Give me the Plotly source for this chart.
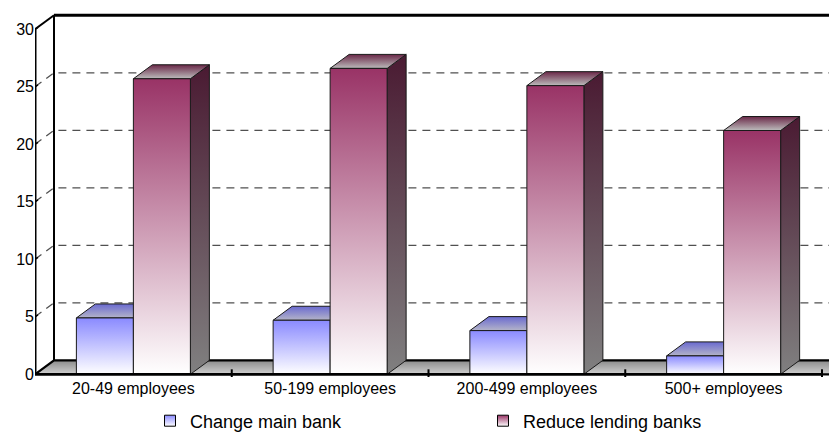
import plotly.graph_objects as go

# ---- data ----
categories = ["20-49 employees", "50-199 employees", "200-499 employees", "500+ employees"]
change_main_bank = [4.9, 4.7, 3.8, 1.6]
reduce_lending_banks = [25.7, 26.6, 25.1, 21.2]
series_names = ["Change main bank", "Reduce lending banks"]
y_ticks = [0, 5, 10, 15, 20, 25, 30]

# ---- geometry / style constants ----
W, H = 829, 435
ML, MR, MT, MB = 35, 0, 10, 58
PX_PER_CAT = 196.75       # pixels per category slot
PX_PER_UNIT = 11.5        # pixels per value unit
ZERO_PX = 374.3           # pixel row of value 0 (front plane)
DEPTH_DX_PX, DEPTH_DY_PX = 19, 14
DX = DEPTH_DX_PX / PX_PER_CAT
DY = DEPTH_DY_PX / PX_PER_UNIT
BAR_W = 57 / PX_PER_CAT
YMAX = 30
FONT = "Liberation Sans, Arial, sans-serif"

x_range = [0, (W - ML - MR) / PX_PER_CAT]
y_range = [(ZERO_PX - (H - MB)) / PX_PER_UNIT, (ZERO_PX - MT) / PX_PER_UNIT]
n = len(categories)

BLUE = dict(front=["#ffffff", "#8a8aff"], top=["#b4b4c8", "#6a6ad0"])
MAROON = dict(front=["#ffffff", "#993366"], top=["#bcbcbc", "#6a2848"],
              side=["#808080", "#4a1a32"])

fig = go.Figure()


def face(xs, ys, colors, lw=1, lc="#1a1a1a"):
    fig.add_trace(go.Scatter(
        x=xs + [xs[0]], y=ys + [ys[0]], mode="lines", fill="toself",
        fillgradient=dict(type="vertical", colorscale=[[0, colors[0]], [1, colors[1]]]),
        line=dict(color=lc, width=lw), showlegend=False, hoverinfo="skip"))


# floor
fx1 = n + 0.2
face([0, fx1, fx1 + DX, DX], [0, 0, DY, DY], ["#d0d0d0", "#8a8a8a"], lw=2.2, lc="black")

# bars
for i in range(n):
    c = i + 0.5
    # blue bar
    b0, b1, v = c - BAR_W, c, change_main_bank[i]
    face([b0, b1, b1 + DX, b0 + DX], [v, v, v + DY, v + DY], BLUE["top"])
    face([b0, b1, b1, b0], [0, 0, v, v], BLUE["front"])
    # maroon bar
    m0, m1, v = c, c + BAR_W, reduce_lending_banks[i]
    face([m1, m1 + DX, m1 + DX, m1], [0, DY, v + DY, v], MAROON["side"])
    face([m0, m1, m1 + DX, m0 + DX], [v, v, v + DY, v + DY], MAROON["top"])
    face([m0, m1, m1, m0], [0, 0, v, v], MAROON["front"])

# legend entries
fig.add_trace(go.Scatter(x=[None], y=[None], mode="markers", name=series_names[0],
                         marker=dict(symbol="square", size=11, color="#8a8aff",
                                     gradient=dict(type="vertical", color="#ffffff"),
                                     line=dict(color="black", width=1))))
fig.add_trace(go.Scatter(x=[None], y=[None], mode="markers", name=series_names[1],
                         marker=dict(symbol="square", size=11, color="#993366",
                                     gradient=dict(type="vertical", color="#ffffff"),
                                     line=dict(color="black", width=1))))

shapes = []
# dashed gridlines on side + back wall
for v in y_ticks[1:-1]:
    shapes.append(dict(type="path", xref="x", yref="y", layer="below",
                       path=f"M 0 {v} L {DX} {v + DY} L {x_range[1] + 1} {v + DY}",
                       line=dict(color="#505050", width=1.3, dash="8px,6px")))
# back-left vertical, top edges
shapes.append(dict(type="line", xref="x", yref="y", layer="below",
                   x0=DX, y0=DY, x1=DX, y1=YMAX + DY, line=dict(color="black", width=2)))
shapes.append(dict(type="line", xref="x", yref="y", layer="above",
                   x0=0, y0=YMAX, x1=DX, y1=YMAX + DY, line=dict(color="black", width=2)))
shapes.append(dict(type="line", xref="x", yref="y", layer="above",
                   x0=DX, y0=YMAX + DY, x1=x_range[1] + 1, y1=YMAX + DY,
                   line=dict(color="black", width=3)))
# front value axis
shapes.append(dict(type="line", xref="x", yref="y", layer="above",
                   x0=0, y0=0, x1=0, y1=YMAX, line=dict(color="black", width=3)))
# front category axis
shapes.append(dict(type="line", xref="x", yref="y", layer="above",
                   x0=0, y0=0, x1=n, y1=0, line=dict(color="black", width=2.5)))
# category boundary ticks
for k in range(1, n + 1):
    shapes.append(dict(type="line", xref="x", yref="y", layer="above",
                       ysizemode="pixel", yanchor=0, x0=k, x1=k, y0=-3, y1=5,
                       line=dict(color="black", width=2)))
# value ticks (small diagonal stubs)
for v in y_ticks:
    shapes.append(dict(type="line", xref="x", yref="y", layer="above",
                       xsizemode="pixel", xanchor=0, ysizemode="pixel", yanchor=v,
                       x0=-4, y0=-3, x1=3, y1=2, line=dict(color="black", width=1.5)))

fig.update_layout(
    width=W, height=H, margin=dict(l=ML, r=MR, t=MT, b=MB, autoexpand=False),
    paper_bgcolor="white", plot_bgcolor="white",
    font=dict(family=FONT, color="black"),
    shapes=shapes,
    showlegend=True,
    legend=dict(orientation="h", x=(150 - ML) / (W - ML - MR), xanchor="left",
                y=(H - MB - 421) / (H - MT - MB), yanchor="middle",
                font=dict(size=18, family=FONT), entrywidth=288, entrywidthmode="pixels",
                itemwidth=30, bgcolor="rgba(0,0,0,0)"),
    xaxis=dict(range=x_range, tickvals=[i + 0.5 for i in range(n)], ticktext=categories,
               showgrid=False, zeroline=False, showline=False, ticks="",
               tickfont=dict(size=16, family=FONT), fixedrange=True, automargin=False),
    yaxis=dict(range=y_range, tickvals=y_ticks, ticktext=[str(t) for t in y_ticks],
               showgrid=False, zeroline=False, showline=False, ticks="",
               tickfont=dict(size=16, family=FONT), fixedrange=True, automargin=False),
)

fig.write_html("out.html")
